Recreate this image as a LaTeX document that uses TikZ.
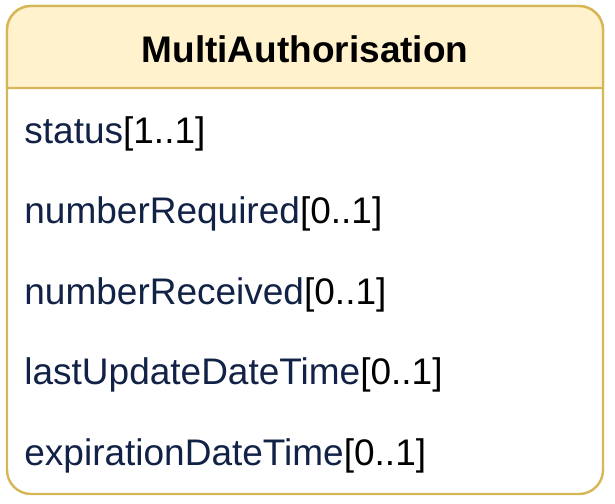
\documentclass[tikz,border=0pt]{standalone}
\usepackage{fontspec}
\setmainfont{Liberation Sans}
\usetikzlibrary{positioning}
\definecolor{headerfill}{RGB}{255, 242, 204}
\definecolor{headerline}{RGB}{214, 182, 86}
\definecolor{attrnavy}{RGB}{18, 34, 70}
\tikzstyle{classbox} = [rectangle, rounded corners=12pt, draw=headerline, line width=1.2pt, minimum width=298pt, minimum height=244pt]
\tikzstyle{header} = [fill=headerfill, draw=headerline, line width=1.2pt]
\tikzstyle{title} = [anchor=base, inner sep=0pt, font=\fontsize{18.5}{22}\selectfont\bfseries, text=black]
\tikzstyle{attr} = [anchor=base west, inner sep=0pt, font=\fontsize{18.5}{22}\selectfont, text=attrnavy]
\newcommand{\mult}[1]{\textcolor{black}{#1}}

\begin{document}
\begin{tikzpicture}[x=0.5pt, y=-0.5pt, node distance=40.25pt]
\useasboundingbox (0,0) rectangle (615,503);

% Class outline and header
\node (box) [classbox] at (305,250) {};
\coordinate (sepL) at (7,88);
\coordinate (sepR) at (603,88);
\coordinate (topL) at (7,6);
\coordinate (topR) at (603,6);
\draw [header] (sepL) -- (sepR) [rounded corners=12pt] -- (topR) -- (topL) [sharp corners] -- (sepL) -- cycle;
\node (title) [title] at (305,62) {MultiAuthorisation};

% Attributes
\node (status) [attr] at (24,143) {status\mult{[1..1]}};
\node (numberRequired) [below=of status.base west, attr] {numberRequired\mult{[0..1]}};
\node (numberReceived) [below=of numberRequired.base west, attr] {numberReceived\mult{[0..1]}};
\node (lastUpdate) [below=of numberReceived.base west, attr] {lastUpdateDateTime\mult{[0..1]}};
\node (expiration) [below=of lastUpdate.base west, attr] {expirationDateTime\mult{[0..1]}};

\end{tikzpicture}
\end{document}
